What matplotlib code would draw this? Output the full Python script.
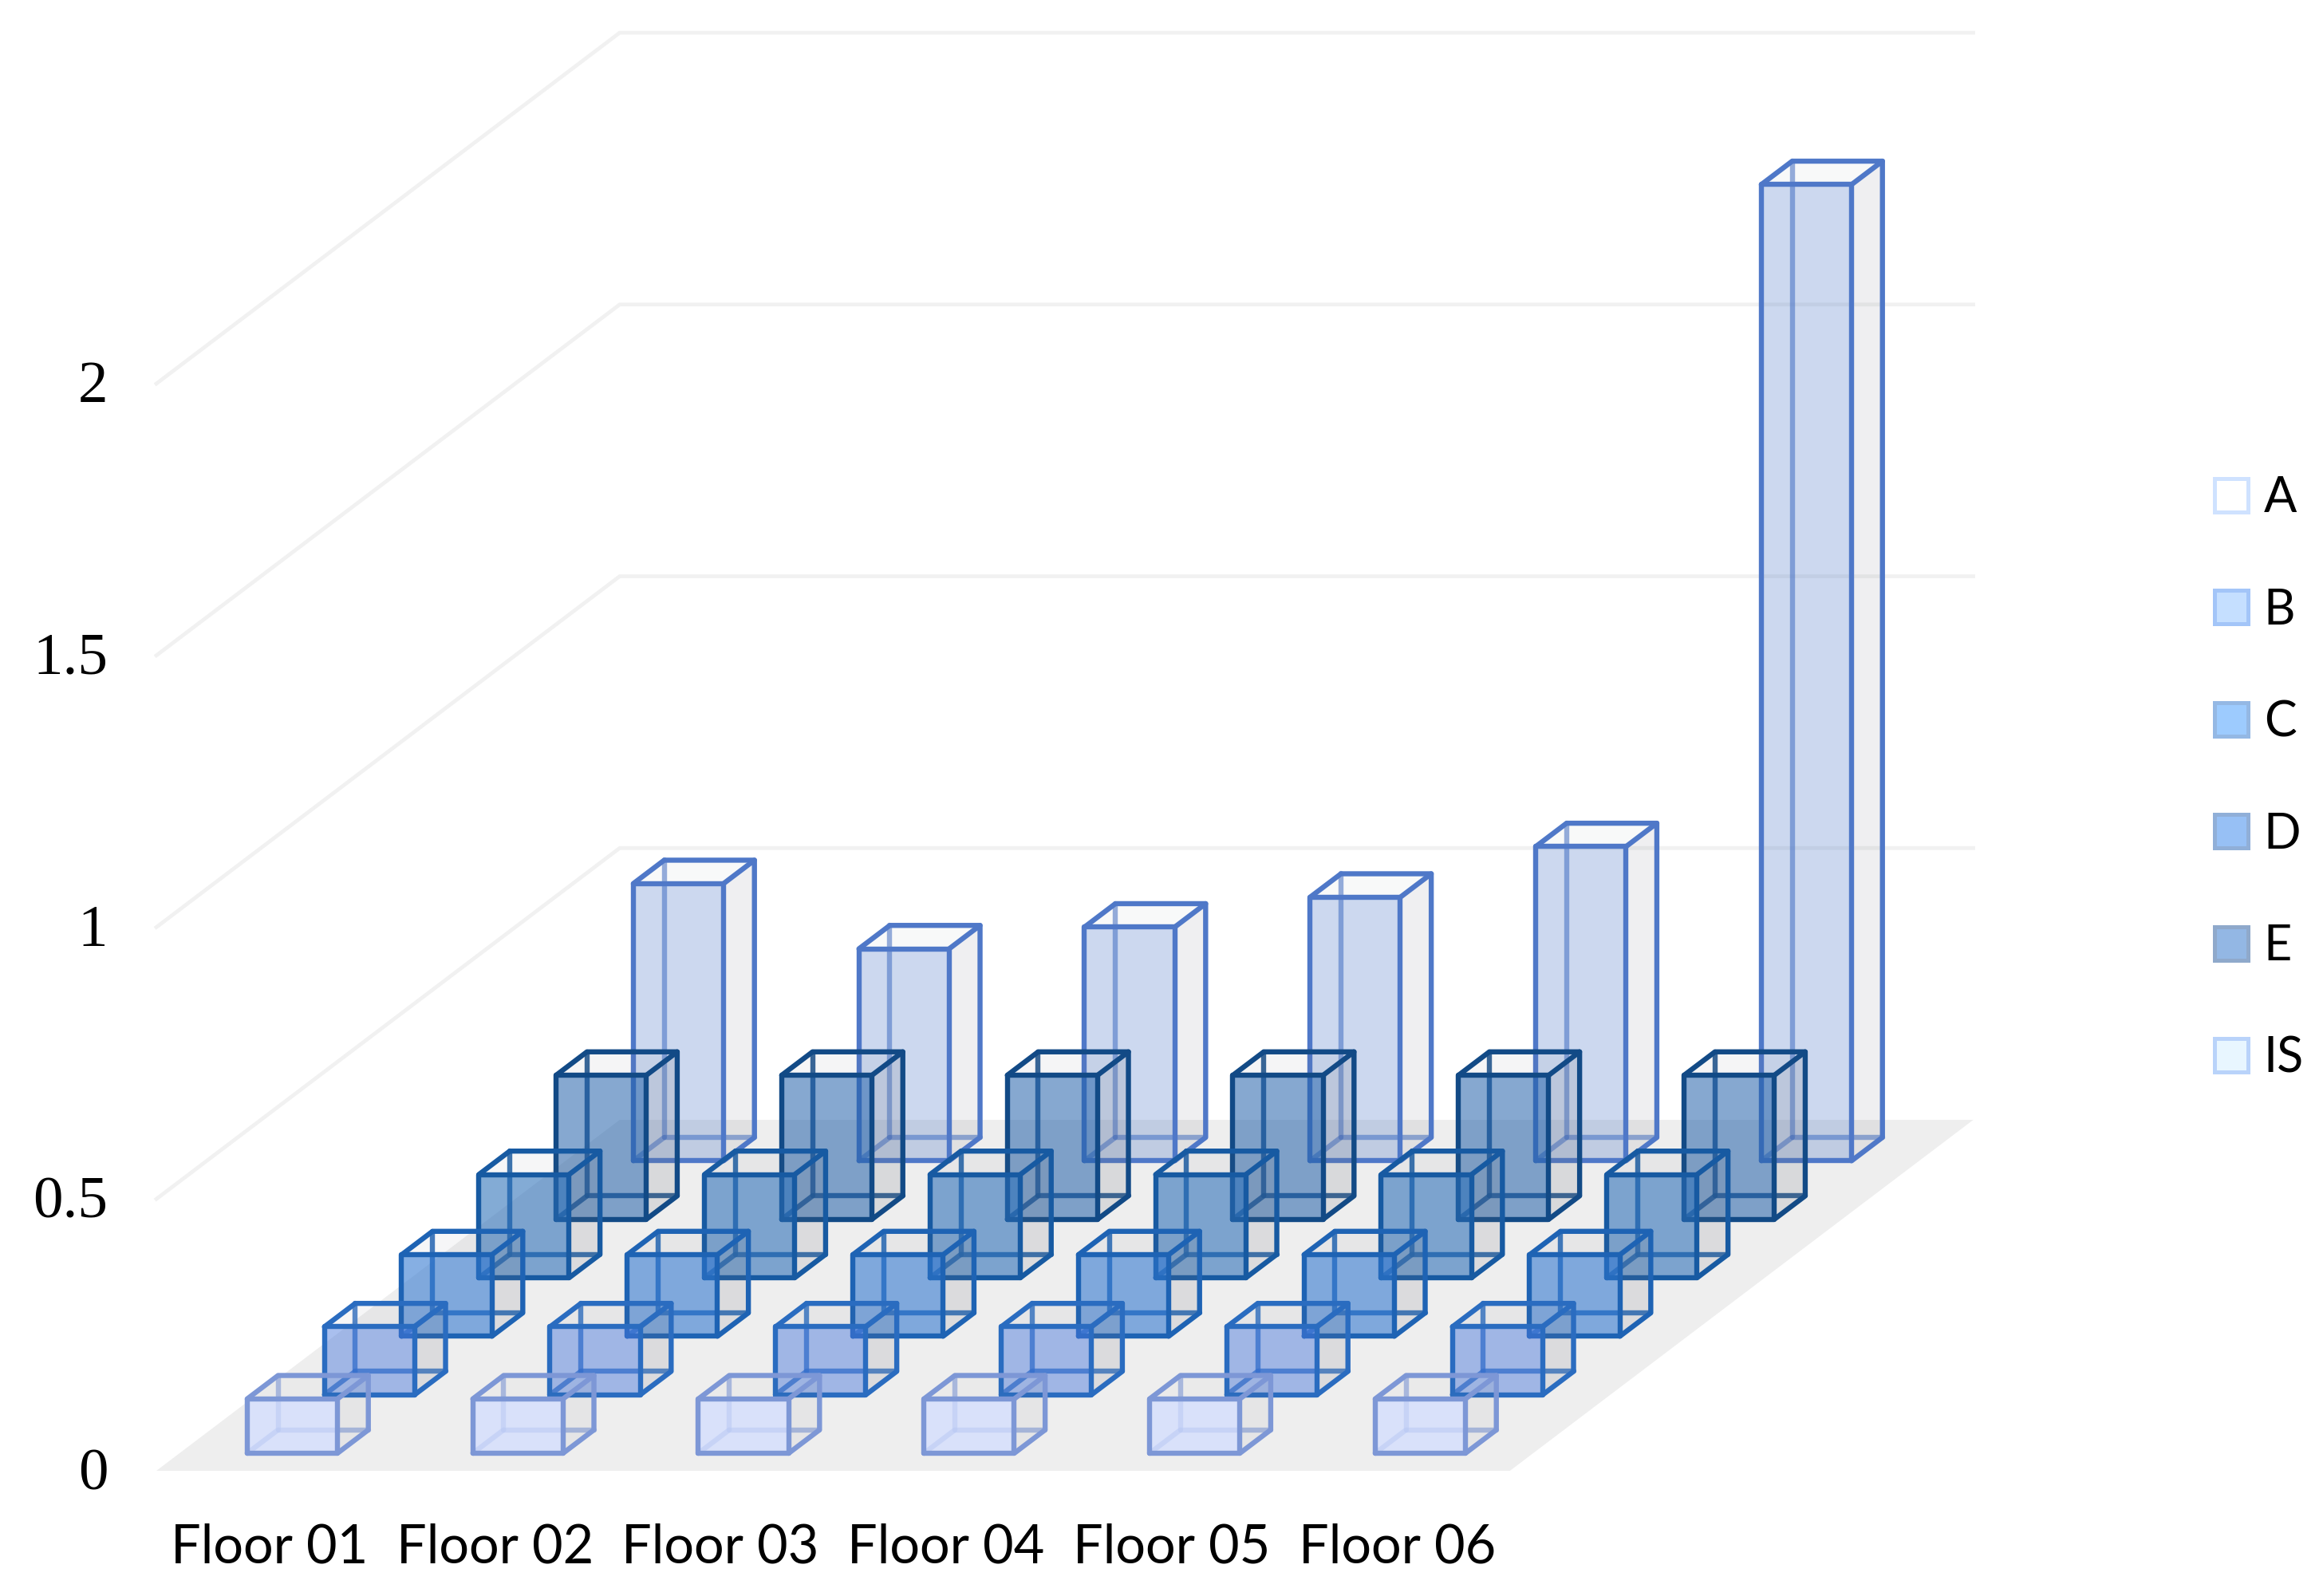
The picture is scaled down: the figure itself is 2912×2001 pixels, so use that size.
"""
Oblique 3D column chart: six series across six floors.
Each column is a see-through box drawn on a flat axes, x in floors, y in value.
"""

import matplotlib
matplotlib.use('Agg')
import matplotlib.pyplot as plt
from matplotlib.patches import Patch, Polygon

# === DATA ===
floors = ['Floor 01', 'Floor 02', 'Floor 03', 'Floor 04', 'Floor 05', 'Floor 06']
series_names = ['A', 'B', 'C', 'D', 'E', 'IS']
y_ticks = [0, 0.5, 1, 1.5, 2]
y_tick_labels = ['0', '0.5', '1', '1.5', '2']

a_values = [0.51, 0.39, 0.43, 0.485, 0.578, 1.796]
b_values = [0.125, 0.125, 0.125, 0.125, 0.125, 0.125]
c_values = [0.15, 0.15, 0.15, 0.15, 0.15, 0.15]
d_values = [0.19, 0.19, 0.19, 0.19, 0.19, 0.19]
e_values = [0.265, 0.265, 0.265, 0.265, 0.265, 0.265]
is_values = [0.10, 0.10, 0.10, 0.10, 0.10, 0.10]

# depth rows, front to back
rows = [
    ('IS', is_values),
    ('B', b_values),
    ('C', c_values),
    ('D', d_values),
    ('E', e_values),
    ('A', a_values),
]

# === STYLE ===
# series: edge colour, front colour, front alpha, side alpha, hidden edge alpha
BAR_STYLE = {
    'IS': ('#7D97D6', '#D2DDFF', 0.75, 0.07, 0.60),
    'B':  ('#2A6CC0', '#4A78DC', 0.47, 0.15, 0.80),
    'C':  ('#1E63B4', '#2F76D0', 0.58, 0.15, 0.85),
    'D':  ('#175AA2', '#2A6EB8', 0.58, 0.15, 0.85),
    'E':  ('#124A86', '#1F5FA8', 0.54, 0.17, 0.85),
    'A':  ('#4F78C8', '#4472C4', 0.27, 0.11, 0.60),
}
LEGEND_STYLE = {
    'A':  ('#FFFFFF', '#CFE2FF'),
    'B':  ('#C5DFFF', '#A3C5F8'),
    'C':  ('#9DCBFE', '#94B8E4'),
    'D':  ('#97C0F5', '#90AFD8'),
    'E':  ('#93B7E4', '#8FA9CB'),
    'IS': ('#E8F6FF', '#B9D3FA'),
}
GRID = '#F1F1F1'
FLOOR = '#EEEEEE'
SIDE = '#6F7480'
LW = 2.3

# one depth row shifts the drawing by this much, in floors and in value
ROW_DX = 0.3423
ROW_DY = 0.1076
BAR_LO, BAR_HI = 0.3, 0.7

plt.rcParams['font.family'] = ['Lato', 'DejaVu Sans']

fig = plt.figure(figsize=(14.56, 10.005), dpi=200)
ax = fig.add_axes([0, 0, 1, 1])
ax.set_xlim(-196 / 282.8, (2912 - 196) / 282.8)
ax.set_ylim(-(2001 - 1844) / 681.5, 1844 / 681.5)
ax.axis('off')


def proj(x, row, z):
    return (x + row * ROW_DX, z + row * ROW_DY)


n_floors = len(floors)
n_rows = len(rows)

# === WALLS AND FLOOR ===
ax.add_patch(Polygon([proj(0, 0, 0), proj(n_floors, 0, 0),
                      proj(n_floors, n_rows, 0), proj(0, n_rows, 0)],
                     facecolor=FLOOR, edgecolor='none', zorder=1))
for tick in y_ticks[1:]:
    pts = [proj(0, 0, tick), proj(0, n_rows, tick), proj(n_floors, n_rows, tick)]
    ax.plot(*zip(*pts), color=GRID, lw=1.7, zorder=1, solid_joinstyle='miter')


# === BARS ===
def draw_box(i, r, value, name, z):
    edge, fill, front_a, side_a, hidden_a = BAR_STYLE[name]
    x0, x1 = i + BAR_LO, i + BAR_HI
    r0, r1 = r + BAR_LO, r + BAR_HI

    fb0, fb1 = proj(x0, r0, 0), proj(x1, r0, 0)
    ft0, ft1 = proj(x0, r0, value), proj(x1, r0, value)
    bb0, bb1 = proj(x0, r1, 0), proj(x1, r1, 0)
    bt0, bt1 = proj(x0, r1, value), proj(x1, r1, value)

    # hidden edges first
    for seg in ([bb0, bt0], [bb0, bb1], [bb0, fb0]):
        ax.plot(*zip(*seg), color=edge, alpha=hidden_a, lw=LW, zorder=z,
                solid_capstyle='round')

    ax.add_patch(Polygon([fb1, bb1, bt1, ft1], facecolor=SIDE, alpha=side_a,
                         edgecolor='none', zorder=z))
    ax.add_patch(Polygon([ft0, ft1, bt1, bt0], facecolor=SIDE, alpha=side_a * 0.4,
                         edgecolor='none', zorder=z))
    ax.add_patch(Polygon([fb0, fb1, ft1, ft0], facecolor=fill, alpha=front_a,
                         edgecolor='none', zorder=z))

    # visible edges
    for seg in ([fb0, fb1, ft1, ft0, fb0], [fb1, bb1, bt1, ft1],
                [ft0, bt0, bt1]):
        ax.plot(*zip(*seg), color=edge, lw=LW, zorder=z + 0.1,
                solid_joinstyle='round', solid_capstyle='round')


for r in range(n_rows - 1, -1, -1):
    name, values = rows[r]
    for i, v in enumerate(values):
        draw_box(i, r, v, name, 2 + (n_rows - r))

# === TEXT ===
for tick, label in zip(y_ticks, y_tick_labels):
    ax.text(-0.215, tick - 0.008, label, ha='right', va='center', fontsize=27,
            family=['Liberation Serif'], color='black')
for i, label in enumerate(floors):
    ax.text(i + 0.5, -0.142, label, ha='center', va='center', fontsize=24,
            color='black')

# === LEGEND ===
handles = [Patch(facecolor=LEGEND_STYLE[s][0], edgecolor=LEGEND_STYLE[s][1],
                 linewidth=1.8, label=s) for s in series_names]
ax.legend(handles=handles, loc='upper left', bbox_to_anchor=(2776 / 2912, 1 - 596 / 2001),
          frameon=False, fontsize=22, handlelength=0.68, handleheight=0.68,
          handletextpad=0.33, labelspacing=1.367, borderpad=0, borderaxespad=0)

fig.savefig('out.png', dpi=200, facecolor='white')
plt.close()
